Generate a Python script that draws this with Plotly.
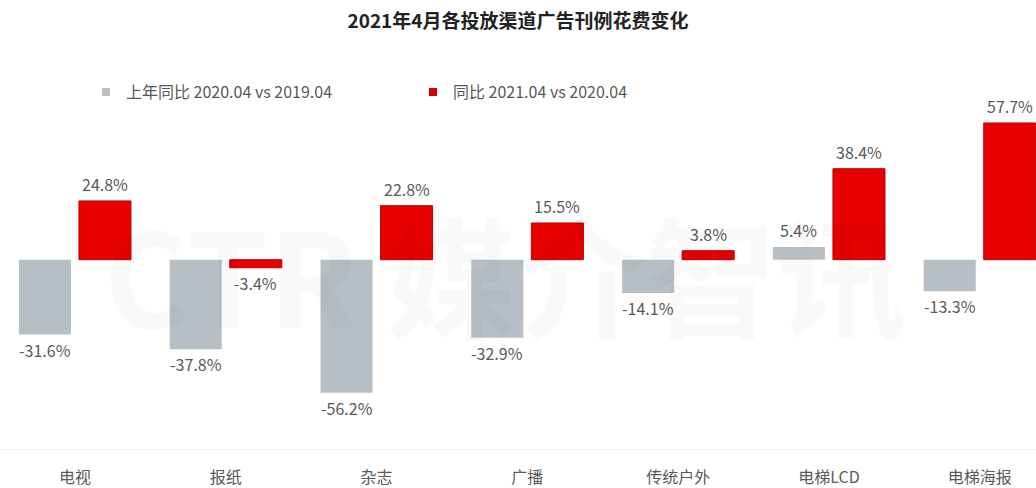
import plotly.graph_objects as go

categories = ["电视", "报纸", "杂志", "广播", "传统户外", "电梯LCD", "电梯海报"]
prev_year = [-31.6, -37.8, -56.2, -32.9, -14.1, 5.4, -13.3]
this_year = [24.8, -3.4, 22.8, 15.5, 3.8, 38.4, 57.7]
series_names = ["上年同比 2020.04 vs 2019.04", "同比 2021.04 vs 2020.04"]
title_text = "2021年4月各投放渠道广告刊例花费变化"
watermark = "CTR 媒介智讯"

FONT = "Noto Sans CJK SC"
GRAY = "#b8bfc4"
RED = "#e60000"
TXT = "#595959"

fig = go.Figure()
fig.add_trace(go.Bar(x=categories, y=prev_year, name=series_names[0], showlegend=False,
                     marker=dict(color=GRAY, line=dict(width=0))))
fig.add_trace(go.Bar(x=categories, y=this_year, name=series_names[1], showlegend=False,
                     marker=dict(color=RED, line=dict(color="#c00000", width=1))))
for nm, col in zip(series_names, (GRAY, "#d40000")):
    fig.add_trace(go.Scatter(x=[None], y=[None], mode="markers", name=nm,
                             marker=dict(symbol="square", size=8, color=col)))

ann = []
for vals, dx in ((prev_year, -30), (this_year, 30)):
    for c, v in zip(categories, vals):
        ann.append(dict(x=c, y=v, xref="x", yref="y", xshift=dx,
                        yshift=3 if v >= 0 else -1,
                        yanchor="bottom" if v >= 0 else "top",
                        text=f"{v:.1f}%", showarrow=False,
                        font=dict(family=FONT, size=16, color=TXT)))
ann.append(dict(x=505 / 1036, xref="paper", y=(452 - 272) / 352, yref="paper",
                text=f"<b>{watermark}</b>", showarrow=False,
                font=dict(family=FONT, size=130, color="rgba(0,0,0,0.025)")))

fig.update_layout(
    width=1036, height=488,
    margin=dict(l=0, r=0, t=100, b=36),
    paper_bgcolor="white", plot_bgcolor="white",
    barmode="group", bargap=0.204, bargroupgap=0.133,
    title=dict(text=f"<b>{title_text}</b>", x=0.5, xanchor="center",
               y=1 - 21 / 488, yanchor="middle",
               font=dict(family=FONT, size=19, color="#222222")),
    legend=dict(orientation="h", x=86 / 1036, xanchor="left",
                y=1 + 8 / 352, yanchor="middle", entrywidth=282,
                entrywidthmode="pixels",
                font=dict(family=FONT, size=16, color=TXT),
                bgcolor="rgba(0,0,0,0)"),
    xaxis=dict(type="category", range=[-0.497, 6.373], showgrid=False,
               zeroline=False, showline=True, linecolor="#ececec",
               linewidth=1, ticks="", ticklabelstandoff=14,
               tickfont=dict(family=FONT, size=16, color=TXT)),
    yaxis=dict(range=[-79.9, 67.4], showgrid=False, zeroline=False,
               showticklabels=False, showline=False),
    annotations=ann,
    showlegend=True,
)

fig.write_html("out.html", config={"displayModeBar": False},
               post_script="document.body.style.margin='0';")
